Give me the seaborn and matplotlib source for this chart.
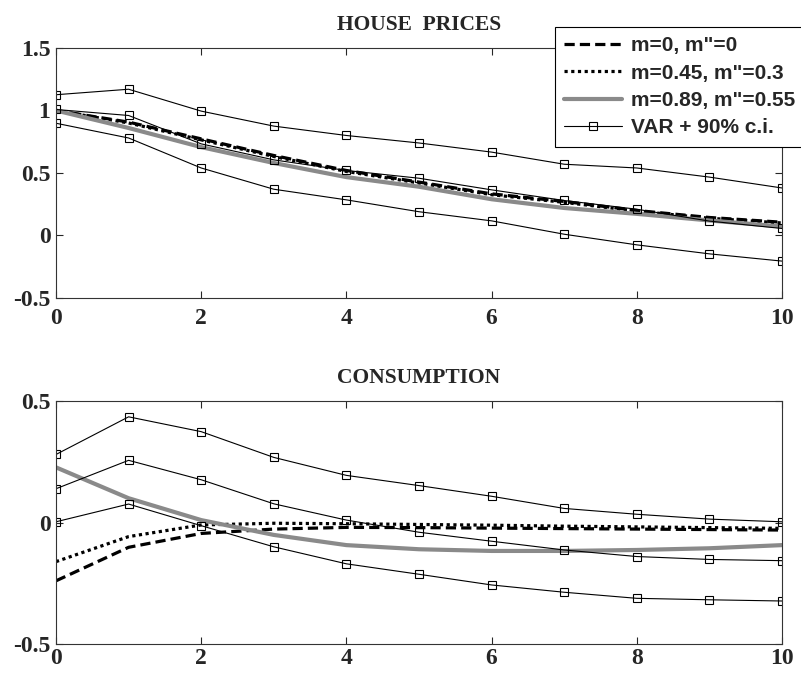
import matplotlib
matplotlib.use("Agg")
import matplotlib.pyplot as plt
import numpy as np
import pandas as pd
import seaborn as sns

horizon = list(range(11))

# house prices responses
hp_m0 = [1.0, 0.907, 0.773, 0.64, 0.52, 0.427, 0.333, 0.272, 0.2, 0.144, 0.106]
hp_m045 = [1.0, 0.9, 0.765, 0.632, 0.512, 0.42, 0.326, 0.265, 0.195, 0.138, 0.1]
hp_m089 = [1.0, 0.86, 0.707, 0.58, 0.467, 0.39, 0.29, 0.22, 0.173, 0.12, 0.072]
hp_var_hi = [1.126, 1.17, 0.995, 0.875, 0.80, 0.74, 0.667, 0.57, 0.54, 0.467, 0.38]
hp_var = [1.008, 0.96, 0.733, 0.605, 0.52, 0.458, 0.365, 0.28, 0.21, 0.115, 0.056]
hp_var_lo = [0.898, 0.78, 0.54, 0.37, 0.285, 0.19, 0.117, 0.01, -0.075, -0.147, -0.205]

# consumption responses
c_m0 = [-0.24, -0.102, -0.045, -0.027, -0.02, -0.021, -0.023, -0.025, -0.027, -0.029, -0.031]
c_m045 = [-0.161, -0.058, -0.01, -0.003, -0.005, -0.008, -0.011, -0.015, -0.018, -0.021, -0.024]
c_m089 = [0.227, 0.1, 0.01, -0.051, -0.093, -0.11, -0.117, -0.117, -0.113, -0.106, -0.093]
c_var_hi = [0.28, 0.435, 0.374, 0.268, 0.194, 0.152, 0.108, 0.058, 0.034, 0.014, 0.003]
c_var = [0.139, 0.256, 0.176, 0.077, 0.01, -0.04, -0.077, -0.113, -0.14, -0.152, -0.157]
c_var_lo = [0.003, 0.076, -0.013, -0.1, -0.17, -0.213, -0.257, -0.287, -0.312, -0.318, -0.323]

labels = ["m=0, m''=0", "m=0.45, m''=0.3", "m=0.89, m''=0.55", "VAR + 90% c.i."]
labels = [s.replace("''", '"') for s in labels]

sns.set_style("ticks")
plt.rcParams["font.family"] = ["Liberation Serif", "DejaVu Serif"]

fig = plt.figure(figsize=(8.01, 6.74), dpi=100)
ax_top = fig.add_axes([0.0699, 0.5579, 0.9064, 0.3709])
ax_bot = fig.add_axes([0.0699, 0.0445, 0.9064, 0.3605])


def draw_panel(ax, models, bands, title, ylim, yticks, yticklabels, xpad):
    styles = [
        dict(color="black", lw=2.3, linestyle=(0, (3.2, 1.6))),
        dict(color="black", lw=2.3, linestyle=(0, (1, 1.1))),
        dict(color="#8a8a8a", lw=3.0, linestyle="-"),
    ]
    for vals, st, lab in zip(models, styles, labels[:3]):
        df = pd.DataFrame({"h": horizon, "v": vals})
        sns.lineplot(data=df, x="h", y="v", ax=ax, label=lab, **st)
    for i, vals in enumerate(bands):
        df = pd.DataFrame({"h": horizon, "v": vals})
        sns.lineplot(data=df, x="h", y="v", ax=ax, color="black", lw=0.8,
                     marker="s", markersize=6, markerfacecolor="none",
                     markeredgecolor="black", markeredgewidth=0.8,
                     label=labels[3] if i == 0 else None)
    ax.set_xlim(0, 10)
    ax.set_ylim(*ylim)
    ax.set_xticks([0, 2, 4, 6, 8, 10])
    ax.set_yticks(yticks)
    ax.set_yticklabels(yticklabels)
    ax.set_xlabel("")
    ax.set_ylabel("")
    ax.tick_params(direction="in", top=True, right=True, length=5, width=0.8,
                   labelsize=17)
    ax.tick_params(axis="x", pad=xpad)
    ax.tick_params(axis="y", pad=4)
    for lab in ax.get_xticklabels() + ax.get_yticklabels():
        lab.set_fontweight("bold")
    for sp in ax.spines.values():
        sp.set_linewidth(0.8)
        sp.set_color("#333333")
    ax.set_title(title, fontsize=15.5, fontweight="bold", pad=13)
    if ax.get_legend() is not None:
        ax.get_legend().remove()


draw_panel(ax_top, [hp_m0, hp_m045, hp_m089], [hp_var_hi, hp_var, hp_var_lo],
           "HOUSE  PRICES", (-0.5, 1.5), [-0.5, 0, 0.5, 1, 1.5],
           ["-0.5", "0", "0.5", "1", "1.5"], xpad=7)
draw_panel(ax_bot, [c_m0, c_m045, c_m089], [c_var_hi, c_var, c_var_lo],
           "CONSUMPTION", (-0.5, 0.5), [-0.5, 0, 0.5],
           ["-0.5", "0", "0.5"], xpad=3)

handles, labs = ax_top.get_legend_handles_labels()
leg = ax_top.legend(handles, labs, loc="upper right",
                    bbox_to_anchor=(1.004, 0.96), bbox_transform=fig.transFigure,
                    fancybox=False, framealpha=1, edgecolor="black",
                    borderaxespad=0, handlelength=2.8, labelspacing=0.4,
                    borderpad=0.45, handletextpad=0.4,
                    prop={"family": "Liberation Sans", "weight": "bold", "size": 15})
leg.get_frame().set_linewidth(0.8)
leg.set_zorder(10)

fig.savefig("out.png", dpi=100)
